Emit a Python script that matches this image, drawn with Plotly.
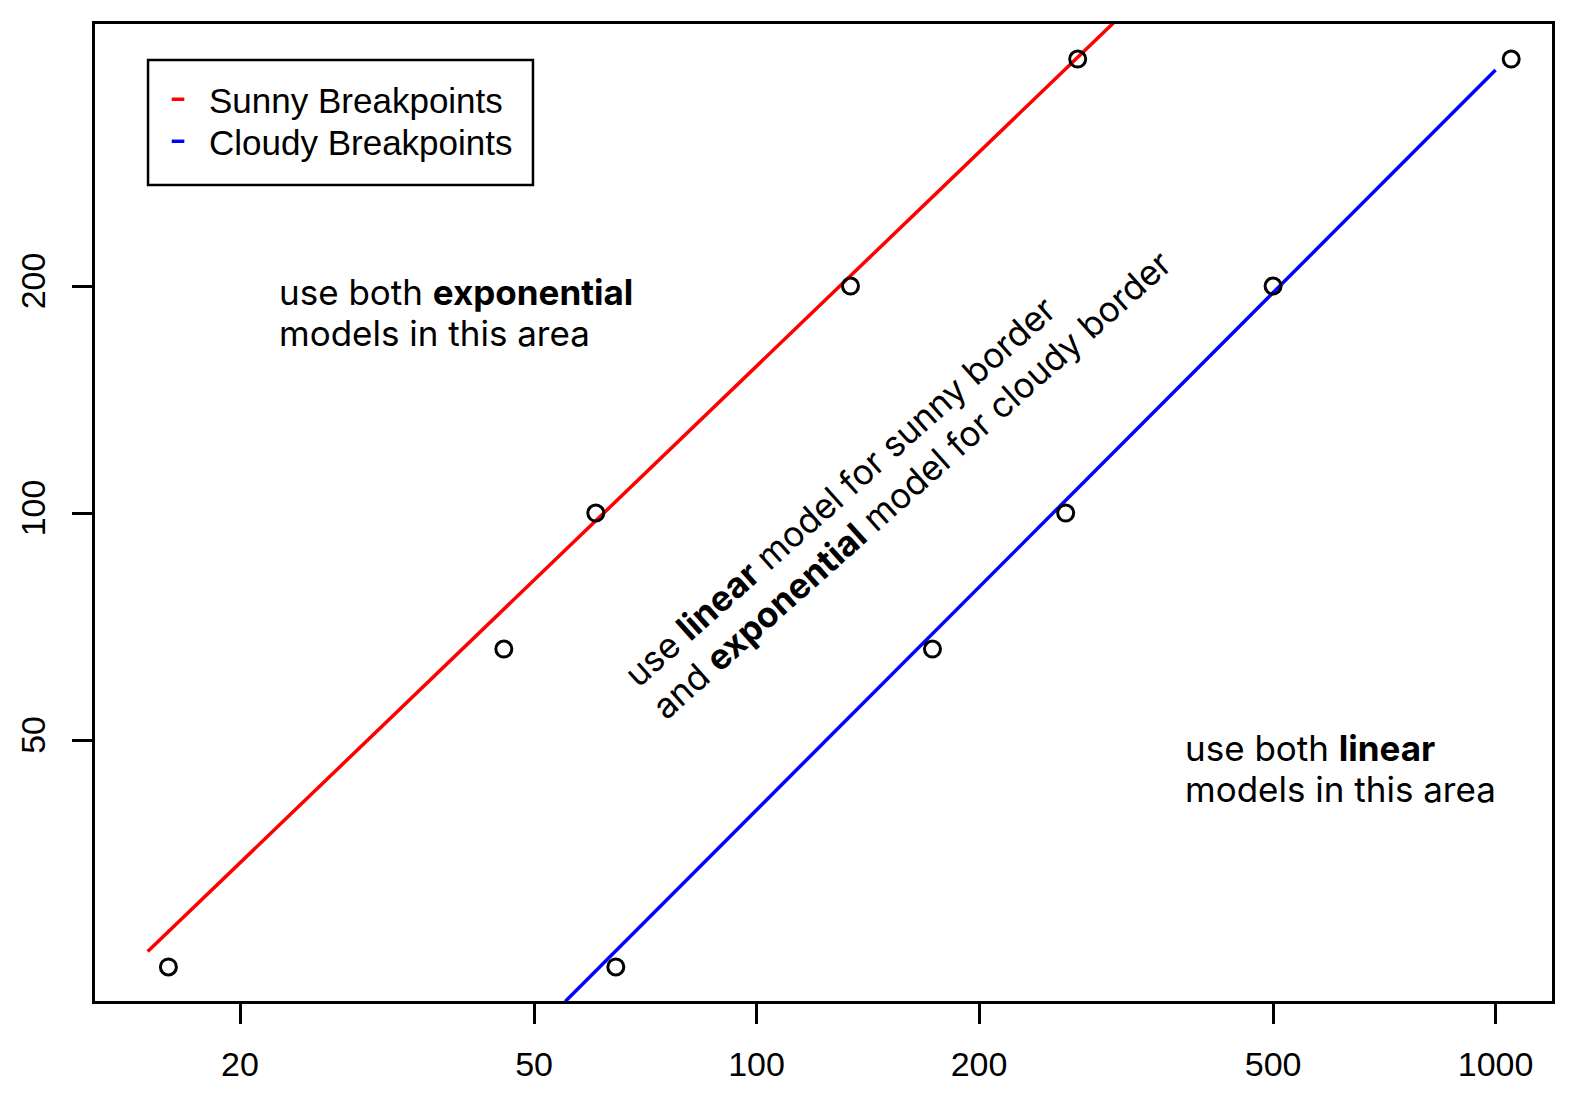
import plotly.graph_objects as go

# breakpoint thresholds (y) and the x where each model switches
y_levels = [25, 66, 100, 200, 400]
sunny_x = [16, 45.5, 60.6, 134, 272]
cloudy_x = [64.5, 173, 262, 500, 1050]

# fitted border lines (end points)
sunny_fit_x = [15, 305]
sunny_fit_y = [26.2, 448]
cloudy_fit_x = [55.1, 1000]
cloudy_fit_y = [22.5, 387]

x_ticks = [20, 50, 100, 200, 500, 1000]
y_ticks = [50, 100, 200]

FONT = "Liberation Sans, Arial, Helvetica, sans-serif"
ANN_FONT = "Inter, Liberation Sans, sans-serif"

fig = go.Figure()

fig.add_trace(go.Scatter(x=sunny_fit_x, y=sunny_fit_y, mode="lines",
                         line=dict(color="#ff0000", width=3.5), showlegend=False))
fig.add_trace(go.Scatter(x=cloudy_fit_x, y=cloudy_fit_y, mode="lines",
                         line=dict(color="#0000ff", width=3.5), showlegend=False))

for xs in (sunny_x, cloudy_x):
    fig.add_trace(go.Scatter(x=xs, y=y_levels, mode="markers", showlegend=False,
                             marker=dict(symbol="circle-open", size=16, color="black",
                                         line=dict(width=3, color="black"))))

# legend-only entries with the short R-style dash, one legend each so rows sit tight
for name, col, lg in [("Sunny Breakpoints", "#ff0000", "legend"),
                      ("Cloudy Breakpoints", "#0000ff", "legend2")]:
    fig.add_trace(go.Scatter(x=[None], y=[None], mode="markers", name=name, legend=lg,
                             marker=dict(symbol="line-ew", size=9, color=col,
                                         line=dict(width=3.5, color=col))))

axis_common = dict(type="log", showgrid=False, zeroline=False, showline=True, mirror=True,
                   linecolor="black", linewidth=2.5, ticks="outside", ticklen=20,
                   tickwidth=2.5, tickcolor="black", automargin=False,
                   tickfont=dict(size=34, color="black", family=FONT))
fig.update_xaxes(range=[1.1048, 3.0764], tickvals=x_ticks,
                 ticktext=[str(v) for v in x_ticks], ticklabelstandoff=11, **axis_common)
fig.update_yaxes(range=[1.3528, 2.6486], tickvals=y_ticks,
                 ticktext=[str(v) for v in y_ticks], tickangle=-90,
                 ticklabelstandoff=14, **axis_common)

# one annotation per text line so the line spacing follows the original
ann_font = dict(size=35, color="black", family=ANN_FONT)
text_lines = [
    ("use both <b>exponential</b>", 0.1249, 0.7257, "left", 0),
    ("models in this area", 0.1249, 0.6837, "left", 0),
    ("use both <b>linear</b>", 0.7467, 0.2590, "left", 0),
    ("models in this area", 0.7467, 0.2170, "left", 0),
    ("use <b>linear</b> model for sunny border", 0.5113, 0.5220, "center", -41.8),
    ("and <b>exponential</b> model for cloudy border", 0.5607, 0.5287, "center", -41.8),
]
for txt, ax, ay, anchor, ang in text_lines:
    fig.add_annotation(xref="paper", yref="paper", x=ax, y=ay, xanchor=anchor,
                       yanchor="middle", showarrow=False, textangle=ang,
                       text=txt, font=ann_font)

# legend frame
fig.add_shape(type="rect", xref="paper", yref="paper", x0=0.0364, x1=0.3006,
              y0=0.8352, y1=0.9632, line=dict(color="black", width=2.5),
              fillcolor="white", layer="below")

leg_common = dict(xanchor="left", yanchor="top", borderwidth=0,
                  bgcolor="rgba(0,0,0,0)", itemwidth=52,
                  font=dict(size=35, color="black", family=FONT))
# the page body offsets the figure a little, so shrink it and keep the same plot box
fig.update_layout(
    width=1565, height=1096,
    margin=dict(l=87, r=21, t=16, b=103),
    plot_bgcolor="white", paper_bgcolor="white",
    font=dict(family=FONT, color="black"),
    legend=dict(x=0.0357, y=0.9529, **leg_common),
    legend2=dict(x=0.0357, y=0.9099, **leg_common),
)

fig.write_html("out.html")
